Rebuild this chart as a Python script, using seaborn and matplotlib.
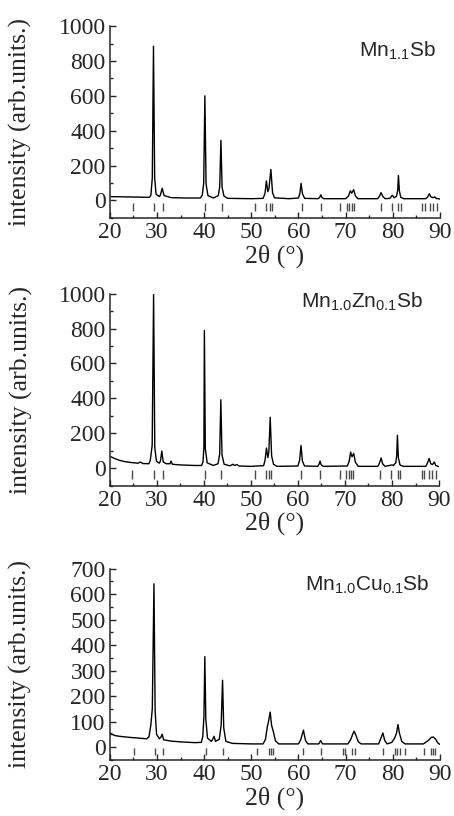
import numpy as np
import pandas as pd
import seaborn as sns
import matplotlib.pyplot as plt
from matplotlib.ticker import MultipleLocator

x_mn11 = [20, 24, 28.4, 28.7, 29.0, 29.25, 29.5, 29.8, 30.5, 30.7, 31.1, 31.5,
          33, 36, 39.2, 39.6, 39.9, 40.15, 40.4, 40.8, 42, 43.0, 43.3, 43.55, 43.8, 44.2,
          45, 50, 52.5, 52.9, 53.2, 53.5, 53.75, 54.15, 54.5, 54.9,
          58, 60, 60.3, 60.55, 60.85, 61.3, 64.2, 64.5, 64.75, 65.0, 65.4,
          70, 70.6, 71.0, 71.3, 71.7, 72.1, 72.6, 76.8, 77.2, 77.5, 77.9, 78.4,
          79.4, 79.9, 80.3, 80.8, 81.05, 81.2, 81.4, 81.7, 82.3,
          87.0, 87.4, 87.75, 88.1, 88.5, 88.9, 89.2, 90]
y_mn11 = [22, 20, 18, 30, 130, 885, 130, 35, 22, 30, 70, 28,
          16, 14, 14, 30, 100, 600, 95, 28, 14, 28, 80, 345, 75, 25,
          12, 10, 12, 40, 112, 50, 70, 178, 45, 15,
          10, 14, 40, 98, 38, 12, 10, 18, 32, 16, 10,
          10, 25, 55, 42, 62, 25, 10, 10, 25, 45, 22, 10,
          12, 30, 15, 25, 60, 143, 55, 18, 10,
          10, 20, 38, 20, 16, 20, 12, 8]

x_zn = [20, 21, 22, 23, 24.5, 26, 26.5, 27, 28.3, 28.6, 28.8, 29.0, 29.3, 29.55, 29.9,
        30.5, 30.75, 31.05, 31.35, 32, 32.8, 33.0, 33.3, 35, 38, 39.5, 39.8, 40.0, 40.1, 40.3, 40.7,
        42, 43.0, 43.35, 43.6, 43.85, 44.3, 45.5, 46.2, 46.5, 47, 47.5, 50,
        52.7, 53.0, 53.3, 53.6, 53.8, 54.1, 54.4, 54.8, 55.5,
        60, 60.35, 60.65, 60.95, 61.4, 64.2, 64.45, 64.7, 64.95, 65.4,
        70.5, 70.9, 71.2, 71.5, 71.85, 72.2, 72.8, 77.0, 77.35, 77.7, 78.0, 78.5,
        80, 80.3, 80.8, 81.0, 81.15, 81.35, 81.7, 82.4,
        87.2, 87.55, 87.9, 88.25, 88.6, 89.0, 89.3, 90]
y_zn = [68, 55, 45, 38, 32, 28, 35, 26, 25, 45, 88, 130, 1000, 120, 40,
        28, 40, 98, 35, 25, 25, 40, 22, 18, 15, 15, 35, 120, 790, 110, 30,
        15, 25, 80, 392, 75, 22, 13, 22, 15, 20, 12, 10,
        14, 45, 115, 60, 90, 292, 70, 22, 10,
        12, 45, 130, 40, 12, 10, 20, 40, 18, 10,
        12, 40, 92, 65, 84, 35, 10, 10, 30, 58, 25, 10,
        18, 15, 30, 70, 188, 60, 18, 10,
        10, 30, 55, 25, 20, 35, 15, 8]

x_cu = [20, 21, 22, 24, 26, 27.8, 28.3, 28.7, 29.0, 29.35, 29.6, 29.9,
        30.5, 30.8, 31.1, 31.4, 33, 35, 38, 39.4, 39.7, 39.95, 40.14, 40.35, 40.7,
        41.5, 41.8, 42.1, 42.4, 43.2, 43.6, 43.9, 44.15, 44.6, 46, 50,
        52.5, 53.0, 53.4, 53.6, 54.0, 54.3, 54.7, 55.1, 55.8,
        60, 60.5, 61.05, 61.5, 62, 64.3, 64.7, 65.1,
        70.5, 71.1, 71.5, 71.8, 72.2, 72.7, 73.3, 77.0, 77.5, 77.9, 78.3, 78.8,
        79.8, 80.4, 80.8, 81.1, 81.4, 81.9, 82.6,
        86.5, 87.5, 88.2, 88.6, 89.1, 89.6, 90]
y_cu = [55, 45, 42, 38, 35, 32, 40, 88, 150, 641, 140, 50,
        32, 38, 50, 28, 23, 20, 17, 18, 40, 120, 355, 110, 35,
        22, 30, 42, 22, 30, 85, 262, 75, 22, 14, 12,
        12, 30, 80, 95, 137, 85, 58, 25, 12,
        12, 30, 66, 25, 12, 12, 25, 12,
        12, 30, 50, 62, 45, 20, 12, 12, 35, 55, 25, 12,
        18, 35, 55, 88, 55, 22, 12,
        12, 25, 38, 39, 30, 15, 10]

# reference reflection positions (2theta)
bragg_a = [24.8, 29.4, 31.2, 40.2, 43.7, 50.8, 53.2, 53.9, 54.3, 60.7, 64.7,
           68.9, 70.3, 70.8, 71.3, 71.8, 77.4, 79.8, 81.2, 81.7,
           86.3, 86.8, 87.9, 88.6, 89.3]
bragg_b = [25.2, 29.5, 31.2, 40.4, 44.0, 51.2, 53.8, 54.2, 54.6, 61.0, 64.8,
           69.5, 69.9, 71.4, 72.0, 78.0, 80.5, 81.0, 81.5, 82.6,
           86.6, 88.2, 88.6, 88.9]

labels = [r'Mn$_{\mathregular{1.1}}$Sb', r'Mn$_{\mathregular{1.0}}$Zn$_{\mathregular{0.1}}$Sb',
          r'Mn$_{\mathregular{1.0}}$Cu$_{\mathregular{0.1}}$Sb']

sns.set_style('ticks')
plt.rcParams['font.family'] = ['Liberation Serif', 'DejaVu Serif']
plt.rcParams['mathtext.fontset'] = 'custom'
plt.rcParams['mathtext.rm'] = 'Liberation Sans'

panels = [
    (x_mn11, y_mn11, bragg_a, (-100, 1000), 200, 100, (-15, -60), [0.242, 0.733, 0.727, 0.235], (0.988, 0.84)),
    (x_zn, y_zn, bragg_a, (-100, 1000), 200, 100, (-10, -60), [0.242, 0.405, 0.725, 0.235], (0.951, 0.93)),
    (x_cu, y_cu, bragg_b, (-50, 700), 100, 50, (-3, -33), [0.242, 0.069, 0.727, 0.234], (0.97, 0.886)),
]

fig = plt.figure(figsize=(4.54, 8.16), dpi=100)

for (xs, ys, bragg, ylim, major, minor, blim, pos, lpos), lab in zip(panels, labels):
    ax = fig.add_axes(pos)
    df = pd.DataFrame({'two_theta': xs, 'intensity': ys})
    sns.lineplot(data=df, x='two_theta', y='intensity', ax=ax, color='black',
                 lw=1.0, sort=False, estimator=None)
    ax.vlines(bragg, blim[1], blim[0], color='#4a4a4a', lw=1.0)
    ax.set_xlim(20, 90)
    ax.set_ylim(*ylim)
    ax.xaxis.set_major_locator(MultipleLocator(10))
    ax.xaxis.set_minor_locator(MultipleLocator(5))
    ax.yaxis.set_major_locator(MultipleLocator(major))
    ax.yaxis.set_minor_locator(MultipleLocator(minor))
    ax.tick_params(which='both', direction='in', width=1.0, labelsize=17, pad=3)
    ax.tick_params(which='major', length=4.5)
    ax.tick_params(which='minor', length=2.5)
    sns.despine(ax=ax)
    for s in ['left', 'bottom']:
        ax.spines[s].set_linewidth(1.1)
    ax.set_xlabel('2θ (°)', fontsize=18.5, labelpad=1)
    ax.set_ylabel('intensity (arb.units.)', fontsize=18.5)
    ax.yaxis.set_label_coords(-0.235, 0.5)
    ax.text(lpos[0], lpos[1], lab, transform=ax.transAxes, ha='right', va='baseline',
            fontsize=15, family='Liberation Sans')

fig.savefig('out.png', dpi=100)
